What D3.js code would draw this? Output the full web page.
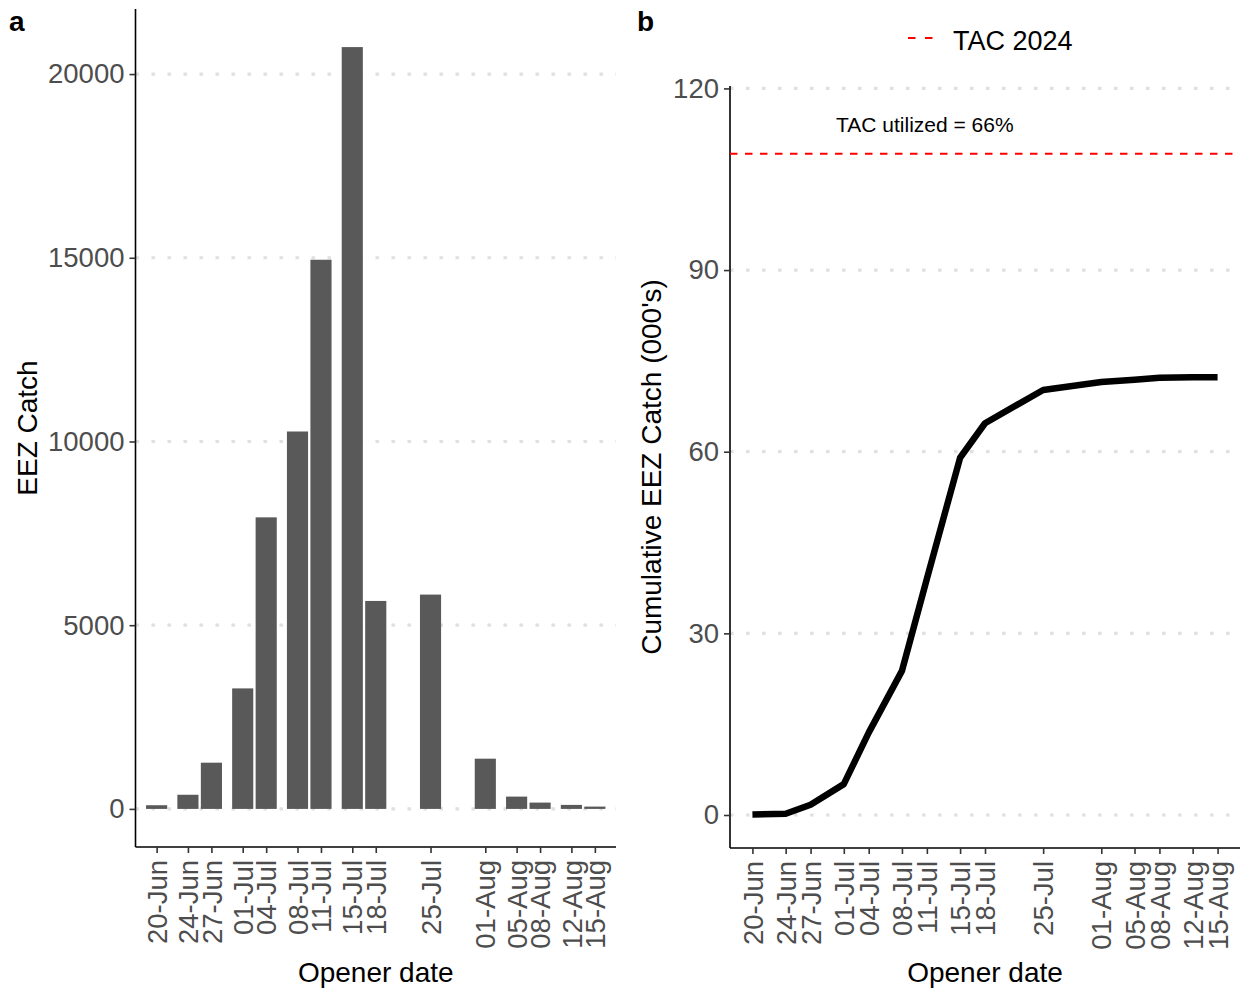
<!DOCTYPE html>
<html>
<head>
<meta charset="utf-8">
<script src="https://cdn.jsdelivr.net/npm/d3@7"></script>
<style>
  html, body { margin: 0; padding: 0; background: #fff; }
  svg { display: block; font-family: "Liberation Sans", Arial, sans-serif; }
</style>
</head>
<body>
<svg id="chart" width="1245" height="992"></svg>
<script>
// ---------------- data ----------------
const openerDates = ["2024-06-20","2024-06-24","2024-06-27","2024-07-01","2024-07-04","2024-07-08","2024-07-11",
                     "2024-07-15","2024-07-18","2024-07-25","2024-08-01","2024-08-05","2024-08-08","2024-08-12","2024-08-15"];
const eezCatch = [100, 385, 1258, 3280, 7935, 10272, 14946, 20734, 5660, 5833, 1367, 335, 172, 109, 63];
const cumulativeCatch = [0.1, 0.2, 1.7, 5.1, 13.6, 23.8, 39.0, 59.0, 64.7, 70.2, 71.5, 71.9, 72.2, 72.3, 72.3];
const tacValue = 109.2;
const tacLabel = "TAC 2024";
const tacUtilText = "TAC utilized = 66%";
const yTicksA = [0, 5000, 10000, 15000, 20000];
const yTicksB = [0, 30, 60, 90, 120];

// ---------------- setup ----------------
const parse = d3.utcParse("%Y-%m-%d");
const dates = openerDates.map(parse);
const fmt = d3.utcFormat("%d-%b");
const DAY = 86400000;
const pad = 2.7 * DAY;
const halfBar = 1.35 * DAY;
const svg = d3.select("#chart");

const tickColor = "#333333";
const labelColor = "#4D4D4D";
const gridColor = "#E0E0E0";

function styleAxis(g) {
  g.select(".domain").attr("stroke", "#000").attr("stroke-width", 1.6);
  g.selectAll(".tick line").attr("stroke", tickColor).attr("stroke-width", 1.6);
  g.selectAll(".tick text").attr("fill", labelColor).style("font-size", "27.5px")
    .style("font-family", '"Liberation Sans", Arial, sans-serif');
}

function panel(opts) {
  const { x0, x1, yBottom, yScale, yTicks, yTitle, titleX, label, labelX } = opts;
  const x = d3.scaleUtc()
    .domain([new Date(dates[0].getTime() - pad), new Date(dates[dates.length - 1].getTime() + pad)])
    .range([x0, x1]);
  const g = svg.append("g");

  // gridlines
  g.append("g").selectAll("line").data(yTicks).join("line")
    .attr("x1", x0).attr("x2", x1)
    .attr("y1", d => yScale(d)).attr("y2", d => yScale(d))
    .attr("stroke", gridColor).attr("stroke-width", 3.2)
    .attr("stroke-dasharray", "3.5,12.5");

  // axes
  const yAxis = g.append("g").attr("transform", `translate(${x0},0)`)
    .call(d3.axisLeft(yScale).tickValues(yTicks).tickSize(6).tickPadding(5).tickFormat(d3.format("d")));
  styleAxis(yAxis);
  yAxis.select(".domain").attr("d", `M0,${yScale.range()[0]}V${yScale.range()[1]}`);

  const xAxis = g.append("g").attr("transform", `translate(0,${yBottom})`)
    .call(d3.axisBottom(x).tickValues(dates).tickSize(6).tickPadding(6).tickFormat(fmt));
  styleAxis(xAxis);
  xAxis.select(".domain").attr("d", `M${x0},0H${x1}`);
  xAxis.selectAll(".tick text")
    .attr("transform", "rotate(-90)")
    .attr("text-anchor", "end")
    .attr("x", -13).attr("y", 0).attr("dy", "0.35em");

  // titles
  svg.append("text").attr("x", (x0 + x1) / 2).attr("y", 982)
    .attr("text-anchor", "middle").style("font-size", "28px").attr("fill", "#000")
    .text("Opener date");
  const yr = yScale.range();
  svg.append("text")
    .attr("transform", `translate(${titleX},${(yr[0] + yr[1]) / 2}) rotate(-90)`)
    .attr("text-anchor", "middle").attr("dy", "0.35em")
    .style("font-size", "28px").attr("fill", "#000").text(yTitle);
  svg.append("text").attr("x", labelX).attr("y", 31)
    .style("font-size", "28px").style("font-weight", "bold").attr("fill", "#000").text(label);
  return { x, g };
}

// ---------------- panel a ----------------
const maxA = d3.max(eezCatch);
const yA = d3.scaleLinear().domain([-0.05 * maxA, 1.05 * maxA]).range([847, 9]);
const pa = panel({ x0: 135.5, x1: 616, yBottom: 847, yScale: yA, yTicks: yTicksA,
                   yTitle: "EEZ Catch", titleX: 27, label: "a", labelX: 9 });
pa.g.append("g").selectAll("rect").data(eezCatch).join("rect")
  .attr("x", (d, i) => pa.x(new Date(dates[i].getTime() - halfBar)))
  .attr("width", (d, i) => pa.x(new Date(dates[i].getTime() + halfBar)) - pa.x(new Date(dates[i].getTime() - halfBar)))
  .attr("y", d => yA(d))
  .attr("height", d => yA(0) - yA(d))
  .attr("fill", "#595959");

// ---------------- panel b ----------------
const yB = d3.scaleLinear().domain([-5.45, 120.4]).range([848, 86]);
const pb = panel({ x0: 730, x1: 1240, yBottom: 848, yScale: yB, yTicks: yTicksB,
                   yTitle: "Cumulative EEZ Catch (000's)", titleX: 651, label: "b", labelX: 637 });

// TAC line
pb.g.append("line")
  .attr("x1", 730).attr("x2", 1240)
  .attr("y1", yB(tacValue)).attr("y2", yB(tacValue))
  .attr("stroke", "#FF0000").attr("stroke-width", 2)
  .attr("stroke-dasharray", "7.5,7.5");

// annotation
pb.g.append("text")
  .attr("x", pb.x(parse("2024-07-11")) - 2).attr("y", yB(114))
  .attr("text-anchor", "middle").attr("dy", "0.35em")
  .style("font-size", "21px").attr("fill", "#000").text(tacUtilText);

// cumulative line
const line = d3.line().x((d, i) => pb.x(dates[i])).y(d => yB(d));
pb.g.append("path").datum(cumulativeCatch)
  .attr("d", line).attr("fill", "none")
  .attr("stroke", "#000").attr("stroke-width", 6.5)
  .attr("stroke-linejoin", "round").attr("stroke-linecap", "butt");

// legend
const lg = svg.append("g");
lg.append("line").attr("x1", 908).attr("x2", 933).attr("y1", 38).attr("y2", 38)
  .attr("stroke", "#FF0000").attr("stroke-width", 2).attr("stroke-dasharray", "7.5,9.5");
lg.append("text").attr("x", 953).attr("y", 50)
  .style("font-size", "27px").attr("fill", "#000").text(tacLabel);
</script>
</body>
</html>
